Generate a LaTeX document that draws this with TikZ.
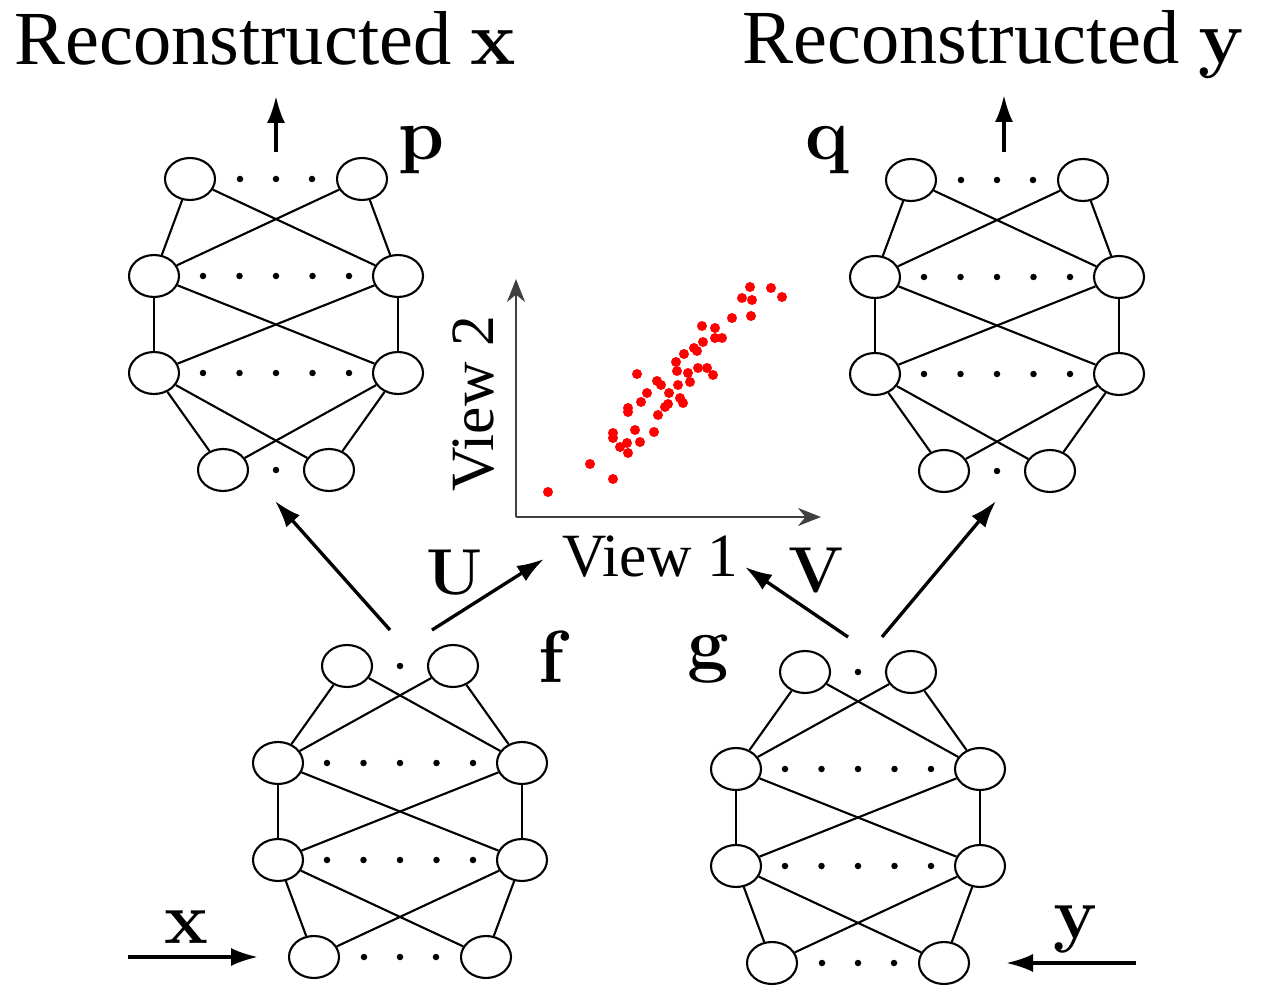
\RequirePackage{fix-cm}
\documentclass[tikz,border=0pt]{standalone}
\usepackage[no-math]{fontspec}
\setmainfont{Liberation Serif}
\usetikzlibrary{arrows.meta,shapes.geometric}

\tikzset{
  unit/.style={draw, ellipse, line width=1.2pt, minimum width=1cm, minimum height=0.84cm, inner sep=0pt},
  wire/.style={line width=1.2pt},
  flow/.style={-{Latex[length=0.54cm,width=0.36cm]}, line width=1.9pt},
  axis/.style={-{Stealth[length=0.46cm,width=0.36cm]}, line width=1.5pt, black!75},
  title/.style={font=\fontsize{43.5}{45}\selectfont, anchor=base, inner sep=0pt},
  sym/.style={font=\fontsize{42}{44}\selectfont, anchor=base, inner sep=0pt},
  wgt/.style={font=\fontsize{37}{38}\selectfont, inner sep=0pt},
  viewlbl/.style={font=\fontsize{35}{36}\selectfont, inner sep=0pt},
}

\begin{document}
\begin{tikzpicture}[x=0.02cm, y=-0.02cm]
\useasboundingbox (0,0) rectangle (1268,986);
% vier Netze: Name / Mitte / aeussere Zeile / Richtung
\foreach \nm/\cx/\fy/\dir in {p/276/179/1, q/997/180/1, f/400/957/-1, g/858/963/-1}{
  \foreach \k/\w in {1/86, 2/122, 3/122, 4/53}{
    \node[unit] (\nm-\k-L) at ({\cx-\w}, {\fy+\dir*(\k-1)*97}) {};
    \node[unit] (\nm-\k-R) at ({\cx+\w}, {\fy+\dir*(\k-1)*97}) {};
  }
  \foreach \k [evaluate=\k as \kn using int(\k+1)] in {1,2,3}
    \foreach \a in {L,R}
      \foreach \b in {L,R}
        \draw[wire] (\nm-\k-\a) -- (\nm-\kn-\b);
  % Punkte
  \foreach \d in {-36,0,36}
    \fill ({\cx+\d}, \fy) circle[radius=0.065cm];
  \foreach \k in {2,3}
    \foreach \d in {-73,-36.5,0,36.5,73}
      \fill ({\cx+\d}, {\fy+\dir*(\k-1)*97}) circle[radius=0.065cm];
  \fill (\cx, {\fy+\dir*3*97}) circle[radius=0.065cm];
}

% Ausgaenge und Eingaenge
\coordinate (p-tail) at (276,152);  \coordinate (p-tip) at (276,96);
\coordinate (q-tail) at (1004,152); \coordinate (q-tip) at (1004,95);
\coordinate (x-tail) at (128,957);  \coordinate (x-tip) at (258,957);
\coordinate (y-tail) at (1136,963); \coordinate (y-tip) at (1006,963);
\draw[flow] (p-tail) -- (p-tip);
\draw[flow] (q-tail) -- (q-tip);
\draw[flow] (x-tail) -- (x-tip);
\draw[flow] (y-tail) -- (y-tip);

% f und g nach oben
\coordinate (f-outL) at (390,630); \coordinate (f-outR) at (432,630);
\coordinate (g-outL) at (848,637); \coordinate (g-outR) at (882,637);
\coordinate (p-in) at (275,501);   \coordinate (q-in) at (996,501);
\coordinate (u-tip) at (544,559);  \coordinate (v-tip) at (745,567);
\draw[flow] (f-outL) -- (p-in);
\draw[flow] (f-outR) -- (u-tip);
\draw[flow] (g-outL) -- (v-tip);
\draw[flow] (g-outR) -- (q-in);

% Streudiagramm
\coordinate (o) at (516,517);
\coordinate (ax-y) at (516,279);
\coordinate (ax-x) at (821,517);
\draw[axis] (o) -- (ax-y);
\draw[axis] (o) -- (ax-x);
\foreach \px/\py in {548/492, 590/464, 613/479, 613/433, 613/438, 620/447, 627/443,
  628/453, 635/430, 640/442, 628/408, 628/412, 641/402, 647/393, 637/374, 654/432,
  658/415, 657/381, 661/385, 669/393, 665/407, 668/404, 678/385, 680/398, 683/403,
  676/362, 677/371, 684/354, 688/373, 690/382, 694/348, 697/351, 698/368, 707/368,
  713/375, 703/342, 702/326, 715/328, 715/338, 722/338, 732/318, 742/298, 750/287,
  752/300, 751/316, 771/288, 782/297}
  \fill[red] (\px,\py) circle[radius=0.1cm];

% Beschriftungen
\node[title] (rec-x) at (265,65) {Reconstructed $\mathbf{x}$};
\node[title] (rec-y) at (994,64) {Reconstructed $\mathbf{y}$};
\node[sym] (lbl-p) at (422,160) {$\mathbf{p}$};
\node[sym] (lbl-q) at (827,160) {$\mathbf{q}$};
\node[sym] (lbl-f) at (555,682) {$\mathbf{f}$};
\node[sym] (lbl-g) at (709,668) {$\mathbf{g}$};
\node[sym] (lbl-x) at (186,943) {$\mathbf{x}$};
\node[sym] (lbl-y) at (1076,938) {$\mathbf{y}$};
\node[wgt] (lbl-u) at (455,572) {$\mathbf{U}$};
\node[wgt] (lbl-v) at (817,570) {$\mathbf{V}$};
\node[viewlbl] (view1) at (650,557) {View 1};
\node[viewlbl, rotate=90] (view2) at (474,404) {View 2};
\end{tikzpicture}
\end{document}
